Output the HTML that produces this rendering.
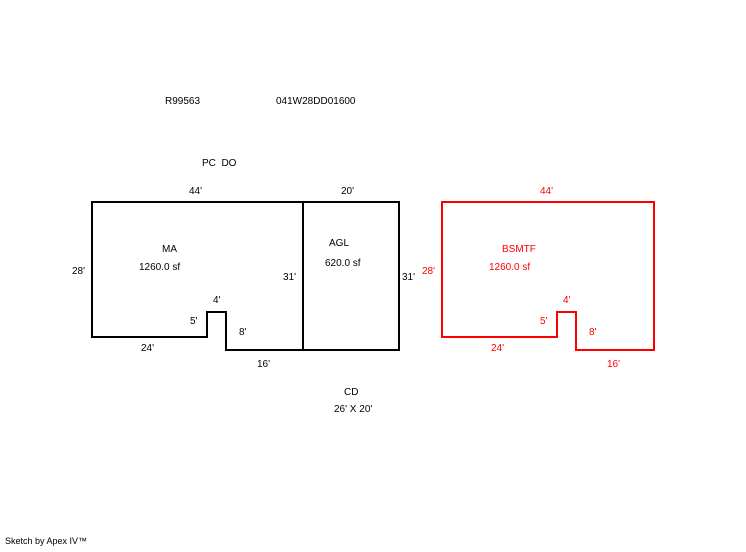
<!DOCTYPE html>
<html><head><meta charset="utf-8"><style>
html,body{margin:0;padding:0;background:#fff;}
svg text{font-family:"Liberation Sans",sans-serif;font-size:10px;}
</style></head><body>
<svg width="746" height="547" viewBox="0 0 746 547" xmlns="http://www.w3.org/2000/svg">
<g fill="none" stroke="#000" stroke-width="2" stroke-linejoin="miter">
<path d="M92 202 H399 V350 H226 V312 H207 V337 H92 Z"/>
<path d="M303 202 V350"/>
</g>
<path d="M442 202 H654 V350 H576 V312 H557 V337 H442 Z" fill="none" stroke="#f00" stroke-width="2"/>
<g fill="#000">
<text x="165" y="104">R99563</text>
<text x="276" y="104">041W28DD01600</text>
<text x="202" y="166">PC&#160;&#160;DO</text>
<text x="189" y="194">44'</text>
<text x="341" y="194">20'</text>
<text x="72" y="274">28'</text>
<text x="162" y="252">MA</text>
<text x="139" y="270">1260.0 sf</text>
<text x="329" y="246">AGL</text>
<text x="325" y="266">620.0 sf</text>
<text x="283" y="280">31'</text>
<text x="402" y="280">31'</text>
<text x="213" y="303">4'</text>
<text x="190" y="324">5'</text>
<text x="239" y="335">8'</text>
<text x="141" y="351">24'</text>
<text x="257" y="367">16'</text>
<text x="344" y="395">CD</text>
<text x="334" y="412">26' X 20'</text>
<text x="5" y="544" style="font-size:9px">Sketch by Apex IV™</text>
</g>
<g fill="#f00">
<text x="540" y="194">44'</text>
<text x="422" y="274">28'</text>
<text x="502" y="252">BSMTF</text>
<text x="489" y="270">1260.0 sf</text>
<text x="563" y="303">4'</text>
<text x="540" y="324">5'</text>
<text x="589" y="335">8'</text>
<text x="491" y="351">24'</text>
<text x="607" y="367">16'</text>
</g>
</svg>
</body></html>
